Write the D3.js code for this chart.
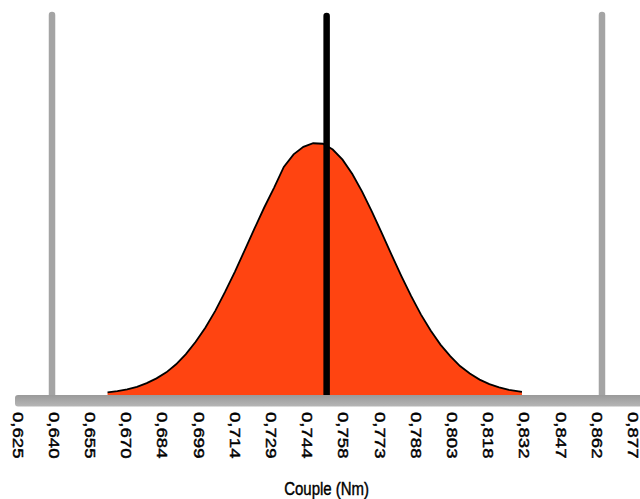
<!DOCTYPE html>
<html>
<head>
<meta charset="utf-8">
<script src="https://cdn.jsdelivr.net/npm/d3@7"></script>
<style>
  html, body { margin: 0; padding: 0; background: #fff; }
  svg { display: block; }
</style>
</head>
<body>
<svg id="chart" width="640" height="499"></svg>
<script>
// ---- data ----
const tickLabels = ["0,625","0,640","0,655","0,670","0,684","0,699","0,714","0,729","0,744",
                    "0,758","0,773","0,788","0,803","0,818","0,832","0,847","0,862","0,877"];
const tickValues = [0.6252,0.63999,0.65478,0.66957,0.68436,0.69915,0.71394,0.72873,0.74352,
                    0.75831,0.7731,0.78789,0.80268,0.81747,0.83226,0.84705,0.86184,0.87663];
const curveX = [0.662,0.666,0.670,0.674,0.678,0.682,0.686,0.690,0.694,0.698,0.702,0.706,0.710,
                0.714,0.718,0.722,0.726,0.730,0.734,0.738,0.742,0.746,0.750,0.754,0.758,0.762,
                0.766,0.770,0.774,0.778,0.782,0.786,0.790,0.794,0.798,0.802,0.806,0.810,0.814,
                0.818,0.822,0.826,0.830,0.8313];
const curveY = [0.010,0.015,0.022,0.032,0.047,0.066,0.090,0.122,0.162,0.211,0.268,0.334,0.409,
                0.489,0.574,0.660,0.744,0.822,0.905,0.955,0.985,0.999,0.997,0.974,0.934,0.877,
                0.807,0.728,0.643,0.557,0.473,0.393,0.320,0.256,0.200,0.154,0.115,0.085,0.061,
                0.043,0.030,0.020,0.014,0.012];
const lowerLimit = 0.6393;
const upperLimit = 0.8640;
const targetValue = 0.7515;
const axisTitle = "Couple (Nm)";

// ---- layout ----
const svg = d3.select("#chart");
const x = d3.scaleLinear().domain([0.6252, 0.87663]).range([17.5, 632.9]);
const y = d3.scaleLinear().domain([0, 1]).range([395, 143]);

const pts = curveX.map((v, i) => [v, curveY[i]]);

// area
svg.append("path")
  .datum(pts)
  .attr("fill", "#ff4411")
  .attr("d", d3.area().x(d => x(d[0])).y0(y(0)).y1(d => y(d[1])));
// outline
svg.append("path")
  .datum(pts)
  .attr("fill", "none")
  .attr("stroke", "#000")
  .attr("stroke-width", 1.8)
  .attr("d", d3.line().x(d => x(d[0])).y(d => y(d[1])));

// limit lines
[lowerLimit, upperLimit].forEach(v => {
  svg.append("line")
    .attr("x1", x(v)).attr("x2", x(v))
    .attr("y1", 15).attr("y2", y(0))
    .attr("stroke", "#a4a4a4")
    .attr("stroke-width", 6.5)
    .attr("stroke-linecap", "round");
});
// target line
svg.append("line")
  .attr("x1", x(targetValue)).attr("x2", x(targetValue))
  .attr("y1", 16).attr("y2", y(0))
  .attr("stroke", "#000")
  .attr("stroke-width", 6.5)
  .attr("stroke-linecap", "round");

// axis band
const defs = svg.append("defs");
const grad = defs.append("linearGradient").attr("id", "axg")
  .attr("x1", 0).attr("x2", 0).attr("y1", 0).attr("y2", 1);
grad.append("stop").attr("offset", "0%").attr("stop-color", "#9a9a9a");
grad.append("stop").attr("offset", "100%").attr("stop-color", "#b6b6b6");
svg.append("rect")
  .attr("x", 15).attr("y", y(0)).attr("width", 640).attr("height", 11.5)
  .attr("rx", 3)
  .attr("fill", "url(#axg)");

// tick labels
const axis = d3.axisBottom(x)
  .tickValues(tickValues)
  .tickSize(0)
  .tickFormat((d, i) => tickLabels[i]);
const gAxis = svg.append("g").attr("transform", "translate(0,412)").call(axis);
gAxis.select(".domain").remove();
gAxis.selectAll("text")
  .attr("x", 0).attr("y", 0).attr("dy", "0.35em")
  .attr("text-anchor", "start")
  .attr("transform", "scale(1,1.2) rotate(90)")
  .attr("fill", "#000")
  .attr("stroke", "#000")
  .attr("stroke-width", 0.45)
  .style("font-family", "'Liberation Sans', Arial, sans-serif")
  .style("font-size", "15.5px");

// axis title
svg.append("text")
  .attr("transform", `translate(${x(targetValue)},495) scale(1,1.2)`)
  .attr("text-anchor", "middle")
  .style("font-family", "'Liberation Sans', Arial, sans-serif")
  .style("font-size", "15px")
  .attr("fill", "#000")
  .attr("stroke", "#000")
  .attr("stroke-width", 0.35)
  .text(axisTitle);
</script>
</body>
</html>
